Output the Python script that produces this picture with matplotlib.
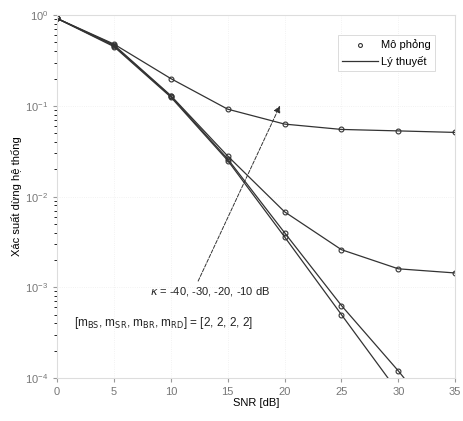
import numpy as np
import matplotlib
matplotlib.use("Agg")
import matplotlib.pyplot as plt

plt.rcParams['font.family'] = ['Liberation Sans', 'DejaVu Sans']

# SNR in dB
snr = [0, 5, 10, 15, 20, 25, 30, 35]

# outage probability for kappa = -10, -20, -30, -40 dB
pout_k10 = [0.92, 0.48, 0.20, 0.092, 0.063, 0.055, 0.053, 0.051]
pout_k20 = [0.92, 0.47, 0.13, 0.028, 0.0068, 0.0026, 0.0016, 0.00144]
pout_k30 = [0.92, 0.46, 0.128, 0.026, 0.0040, 0.00063, 0.00012, 0.00002]
pout_k40 = [0.92, 0.45, 0.125, 0.025, 0.0036, 0.00050, 0.00007, 0.000008]

curves = [pout_k10, pout_k20, pout_k30, pout_k40]

fig = plt.figure(figsize=(4.64, 4.21), dpi=100)
ax = fig.add_axes([0.123, 0.102, 0.858, 0.862])

for i, p in enumerate(curves):
    ax.semilogy(snr, p, '-', color='#333333', lw=0.9,
                label='Lý thuyết' if i == 0 else None)
    ax.semilogy(snr, p, 'o', mfc='none', mec='#333333', ms=3.5, mew=0.8,
                label='Mô phỏng' if i == 0 else None)

ax.set_xlim(0, 35)
ax.set_ylim(1e-4, 1)
ax.set_xticks([0, 5, 10, 15, 20, 25, 30, 35])
ax.set_xlabel('SNR [dB]', fontsize=8, labelpad=1)
ax.set_ylabel('Xác suất dừng hệ thống', fontsize=8, labelpad=2)
ax.tick_params(labelsize=8, colors='#999999', labelcolor='#777777', length=3)
for s in ax.spines.values():
    s.set_color('#dddddd')
ax.grid(True, which='major', color='#eeeeee', lw=0.6, ls=':')

# legend: simulation first, then theory
h, l = ax.get_legend_handles_labels()
order = [l.index('Mô phỏng'), l.index('Lý thuyết')]
leg = ax.legend([h[k] for k in order], [l[k] for k in order],
                loc='upper right', fontsize=8, fancybox=False,
                borderaxespad=1.8, handlelength=3.2, handletextpad=0.3,
                markerscale=0.8)
leg.get_frame().set_edgecolor('#cccccc')
leg.get_frame().set_linewidth(0.6)

ax.annotate('', xy=(19.7, 0.107), xytext=(12.3, 1.1e-3),
            arrowprops=dict(arrowstyle='-|>', ls='--', color='#333333',
                            lw=0.7, mutation_scale=10))
ax.text(8.2, 9e-4, r'$\kappa$ = -40, -30, -20, -10 dB', fontsize=8,
        va='center', color='#222222')
ax.text(1.5, 4e-4,
        r'[m$_{\mathrm{BS}}$, m$_{\mathrm{SR}}$, m$_{\mathrm{BR}}$, m$_{\mathrm{RD}}$] = [2, 2, 2, 2]',
        fontsize=8.5, va='center', color='#222222')

fig.savefig('out.png', dpi=100)
